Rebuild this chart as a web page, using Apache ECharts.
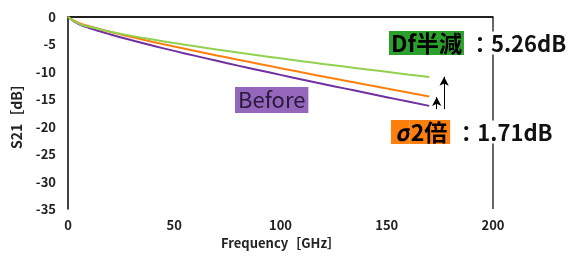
<!DOCTYPE html>
<html lang="ja">
<head>
    <meta charset="UTF-8">
    <title>S21</title>
    <script src="https://cdn.jsdelivr.net/npm/echarts@6/dist/echarts.min.js"></script>
</head>
<body style="margin:0">
<div id="my" style="width: 568px;height: 257px;"></div>
<script>
    // 周波数 [GHz]
    var freq = [0, 5, 10, 20, 30, 40, 50, 60, 70, 80, 90, 100, 110, 120, 130, 140, 150, 160, 170]
    // S21 [dB]
    var before = [0, -1.29, -2.0, -3.19, -4.25, -5.24, -6.18, -7.09, -7.98, -8.86, -9.71, -10.55, -11.38, -12.2, -13.01, -13.82, -14.62, -15.41, -16.2]
    var sigma2 = [0, -1.06, -1.68, -2.72, -3.65, -4.54, -5.38, -6.19, -7.0, -7.79, -8.56, -9.33, -10.09, -10.84, -11.58, -12.32, -13.05, -13.77, -14.5]
    var dfHalf = [0, -1.2, -1.78, -2.68, -3.44, -4.12, -4.75, -5.35, -5.93, -6.48, -7.02, -7.54, -8.05, -8.55, -9.04, -9.53, -10.0, -10.48, -10.95]
    // 矢印 (周波数, 始点, 終点)
    var arrowSmall = [173.5, -16.8, -14.6]
    var arrowBig = [177, -16.8, -10.9]

    function pairs(ys) {
        return freq.map(function (f, i) { return [f, ys[i]] })
    }

    var font = '"Noto Sans CJK JP", "Noto Sans", sans-serif'
    var mCharts = echarts.init(document.getElementById('my'))
    var option = {
        animation: false,
        textStyle: { fontFamily: font },
        grid: { left: 68, right: 75, top: 17, bottom: 48 },
        xAxis: {
            type: 'value',
            min: 0, max: 200, interval: 50,
            name: 'Frequency［GHz］',
            nameLocation: 'middle',
            nameGap: 23,
            nameTextStyle: { color: '#222', fontWeight: 'bold', fontSize: 13, fontFamily: font },
            axisLine: { lineStyle: { color: '#000', width: 1.5 } },
            axisTick: { show: false },
            splitLine: { show: false },
            axisLabel: { color: '#222', fontWeight: 'bold', fontSize: 13, margin: 10, fontFamily: font }
        },
        yAxis: {
            type: 'value',
            min: -35, max: 0, interval: 5,
            name: 'S21［dB］',
            nameLocation: 'middle',
            nameGap: 44,
            nameTextStyle: { color: '#222', fontWeight: 'bold', fontSize: 14, fontFamily: font },
            axisLine: { show: true, onZero: false, lineStyle: { color: '#000', width: 1.5 } },
            axisTick: { show: false },
            splitLine: { show: false },
            axisLabel: { color: '#222', fontWeight: 'bold', fontSize: 13, margin: 12, fontFamily: font }
        },
        series: [
            {
                name: 'Before', type: 'line', data: pairs(before), smooth: true,
                showSymbol: false, lineStyle: { color: '#7030a0', width: 2 },
                markLine: {
                    silent: true, symbol: ['none', 'arrow'], symbolSize: [7, 9],
                    label: { show: false },
                    lineStyle: { color: '#000', width: 1, type: 'solid' },
                    data: [
                        [{ coord: [arrowSmall[0], arrowSmall[1]] }, { coord: [arrowSmall[0], arrowSmall[2]] }],
                        [{ coord: [arrowBig[0], arrowBig[1]] }, { coord: [arrowBig[0], arrowBig[2]] }]
                    ]
                }
            },
            {
                name: 'σ2倍', type: 'line', data: pairs(sigma2), smooth: true,
                showSymbol: false, lineStyle: { color: '#ff7f0e', width: 2 }
            },
            {
                name: 'Df半減', type: 'line', data: pairs(dfHalf), smooth: true,
                showSymbol: false, lineStyle: { color: '#92d050', width: 2 }
            }
        ],
        graphic: [
            // 枠線 (上・右)
            { type: 'line', shape: { x1: 68, y1: 17, x2: 493, y2: 17 }, style: { stroke: '#000', lineWidth: 1.2 }, z: 1 },
            { type: 'line', shape: { x1: 493, y1: 17, x2: 493, y2: 209 }, style: { stroke: '#000', lineWidth: 1.2 }, z: 1 },
            {
                type: 'text', left: 235, top: 87, z: 10,
                style: {
                    text: 'Before', fill: '#2a1a3a', font: '22px ' + font,
                    backgroundColor: '#9467bd', padding: [2, 3, 2, 3]
                }
            },
            {
                type: 'text', left: 389, top: 31, z: 10,
                style: {
                    text: '{a|Df半減}{b|：5.26dB}',
                    rich: {
                        a: { font: 'bold 23px ' + font, fill: '#000', backgroundColor: '#2ca02c', padding: [1, 2, 0, 2], lineHeight: 31 },
                        b: { font: 'bold 22px ' + font, fill: '#111', backgroundColor: '#fff', padding: [1, 0, 0, 5], lineHeight: 31 }
                    }
                }
            },
            {
                type: 'text', left: 391, top: 120, z: 10,
                style: {
                    text: '{s|σ}{a|2倍}{b|：1.71dB}',
                    rich: {
                        s: { font: 'italic bold 23px ' + font, fill: '#000', backgroundColor: '#ff7f0e', padding: [1, 0, 0, 4], lineHeight: 31 },
                        a: { font: 'bold 23px ' + font, fill: '#000', backgroundColor: '#ff7f0e', padding: [1, 3, 0, 1], lineHeight: 31 },
                        b: { font: 'bold 22px ' + font, fill: '#111', backgroundColor: '#fff', padding: [1, 0, 0, 5], lineHeight: 31 }
                    }
                }
            }
        ]
    }
    mCharts.setOption(option)
</script>
</body>
</html>
